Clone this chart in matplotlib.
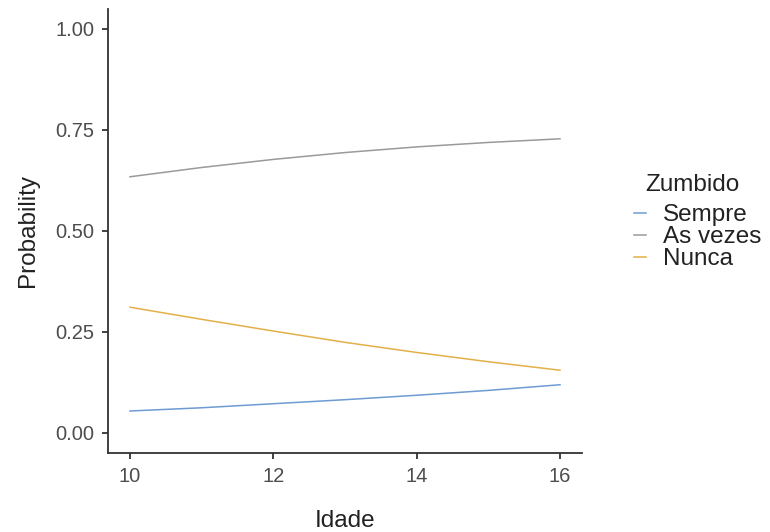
import matplotlib
matplotlib.use("Agg")
import matplotlib.pyplot as plt

plt.rcParams['font.family'] = ['Liberation Sans', 'DejaVu Sans']

idade = [10, 11, 12, 13, 14, 15, 16]
sempre = [0.054, 0.062, 0.072, 0.082, 0.093, 0.105, 0.119]
as_vezes = [0.634, 0.657, 0.677, 0.694, 0.708, 0.719, 0.728]
nunca = [0.311, 0.281, 0.252, 0.224, 0.199, 0.176, 0.155]

labels = ["Sempre", "As vezes", "Nunca"]
colors = ["#6E9BD1", "#9A9A9A", "#E3B047"]

fig = plt.figure(figsize=(7.7, 5.32), dpi=100)
ax = fig.add_axes([0.1409, 0.1485, 0.6143, 0.835])

for ys, lab, c in zip([sempre, as_vezes, nunca], labels, colors):
    ax.plot(idade, ys, color=c, lw=1.1, label=lab)

ax.set_xlim(9.7, 16.3)
ax.set_ylim(-0.05, 1.05)
ax.set_xticks([10, 12, 14, 16])
ax.set_yticks([0, 0.25, 0.5, 0.75, 1.0])
ax.set_yticklabels(["0.00", "0.25", "0.50", "0.75", "1.00"])

for s in ["top", "right"]:
    ax.spines[s].set_visible(False)
for s in ["left", "bottom"]:
    ax.spines[s].set_color("#333333")
    ax.spines[s].set_linewidth(1.3)
ax.tick_params(length=4.3, width=1.3, color="#333333", labelsize=14.5,
               labelcolor="#4D4D4D", pad=6)

ax.set_xlabel("Idade", fontsize=17.5, color="#222222", labelpad=17)
ax.set_ylabel("Probability", fontsize=17.5, color="#222222", labelpad=12)

# legend: title drawn separately so it can sit a bit right of the keys
fig.text(645 / 770, 1 - 185 / 532, "Zumbido", fontsize=17.5, color="#222222",
         ha="left", va="center")
leg = ax.legend(loc="upper left",
                bbox_to_anchor=(634 / 770, 1 - 204 / 532), bbox_transform=fig.transFigure,
                frameon=False, fontsize=17.5,
                handlelength=0.5, handletextpad=0.7, labelspacing=0.0,
                borderpad=0, borderaxespad=0)
for t in leg.get_texts():
    t.set_color("#222222")

fig.savefig("out.png", dpi=100)
